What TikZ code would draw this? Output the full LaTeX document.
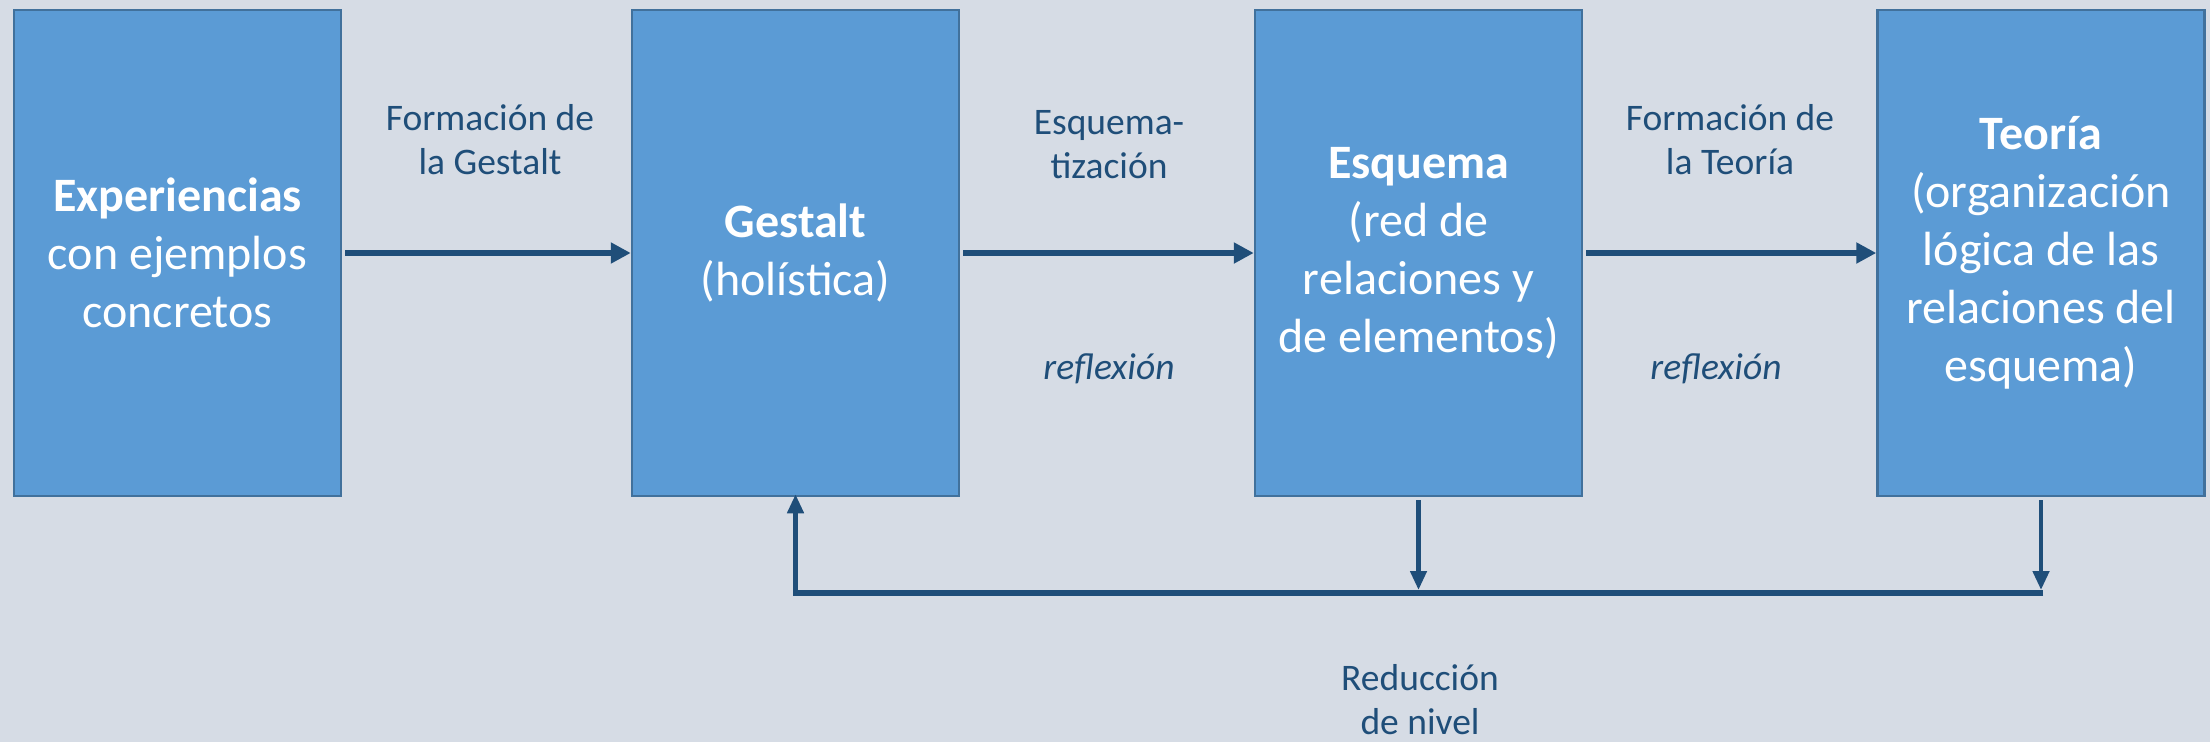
\documentclass[tikz,border=0pt]{standalone}
\usepackage{fontspec}
\setmainfont{Carlito}
\usetikzlibrary{arrows.meta}
\definecolor{bg}{HTML}{D6DCE5}
\definecolor{boxfill}{HTML}{5B9BD5}
\definecolor{boxline}{HTML}{41719C}
\definecolor{arr}{HTML}{1F4E79}
\definecolor{lab}{HTML}{1F4E79}
\begin{document}
\begin{tikzpicture}[x=1pt,y=-1pt,
  stage/.style={draw=boxline, line width=2.5pt, fill=boxfill, minimum width=327pt, minimum height=486pt, inner sep=0pt, text=white, align=center, font=\fontsize{48}{58}\selectfont},
  lbl/.style={text=lab, align=center, font=\fontsize{37.5}{44}\selectfont},
  lbli/.style={text=lab, align=center, font=\fontsize{37.5}{44}\selectfont\itshape},
  flow/.style={draw=arr, line width=6pt, -{Triangle[length=20pt,width=20pt]}, shorten <=3pt},
  vflow/.style={draw=arr, line width=4.5pt, -{Triangle[length=19pt,width=16pt]}, shorten <=3pt},
  backline/.style={draw=arr, line width=6pt}
]
\useasboundingbox[fill=bg] (0,0) rectangle (2210,742);
\node[stage] (e) at (177.5,253) {\textbf{Experiencias}\\con ejemplos\\concretos};
\node[stage] (g) at (795.5,253) {\textbf{Gestalt}\\(holística)};
\node[stage] (s) at (1418.5,253) {\textbf{Esquema}\\(red de\\relaciones y\\de elementos)};
\node[stage] (t) at (2041,253) {\textbf{Teoría}\\(organización\\lógica de las\\relaciones del\\esquema)};

\node[lbl] (l1) at (490,140) {Formación de\\la Gestalt};
\node[lbl] (l2) at (1109,145) {Esquema-\\tización};
\node[lbl] (l3) at (1730,140) {Formación de\\la Teoría};
\node[lbli] (r1) at (1109,369) {reflexión};
\node[lbli] (r2) at (1716,369) {reflexión};
\node[lbl, inner sep=0pt] (l4) at (1420,700) {Reducción\\de nivel};

\draw[flow] (e) -- (g);
\draw[flow] (g) -- (s);
\draw[flow] (s) -- (t);

\coordinate (bl) at (g.south |- 0,593);
\coordinate (br) at (t.south |- 0,593);
\coordinate (sm) at (s.south |- 0,590);
\coordinate (tm) at (t.south |- 0,590);
\draw[backline] ([xshift=2pt]br) -- ([xshift=-2.25pt]bl);
\draw[vflow, shorten <=0pt] ([yshift=3pt]bl) -- ([yshift=3pt]g.south);
\draw[vflow] (s.south) -- (sm);
\draw[vflow] (t.south) -- (tm);
\end{tikzpicture}
\end{document}
